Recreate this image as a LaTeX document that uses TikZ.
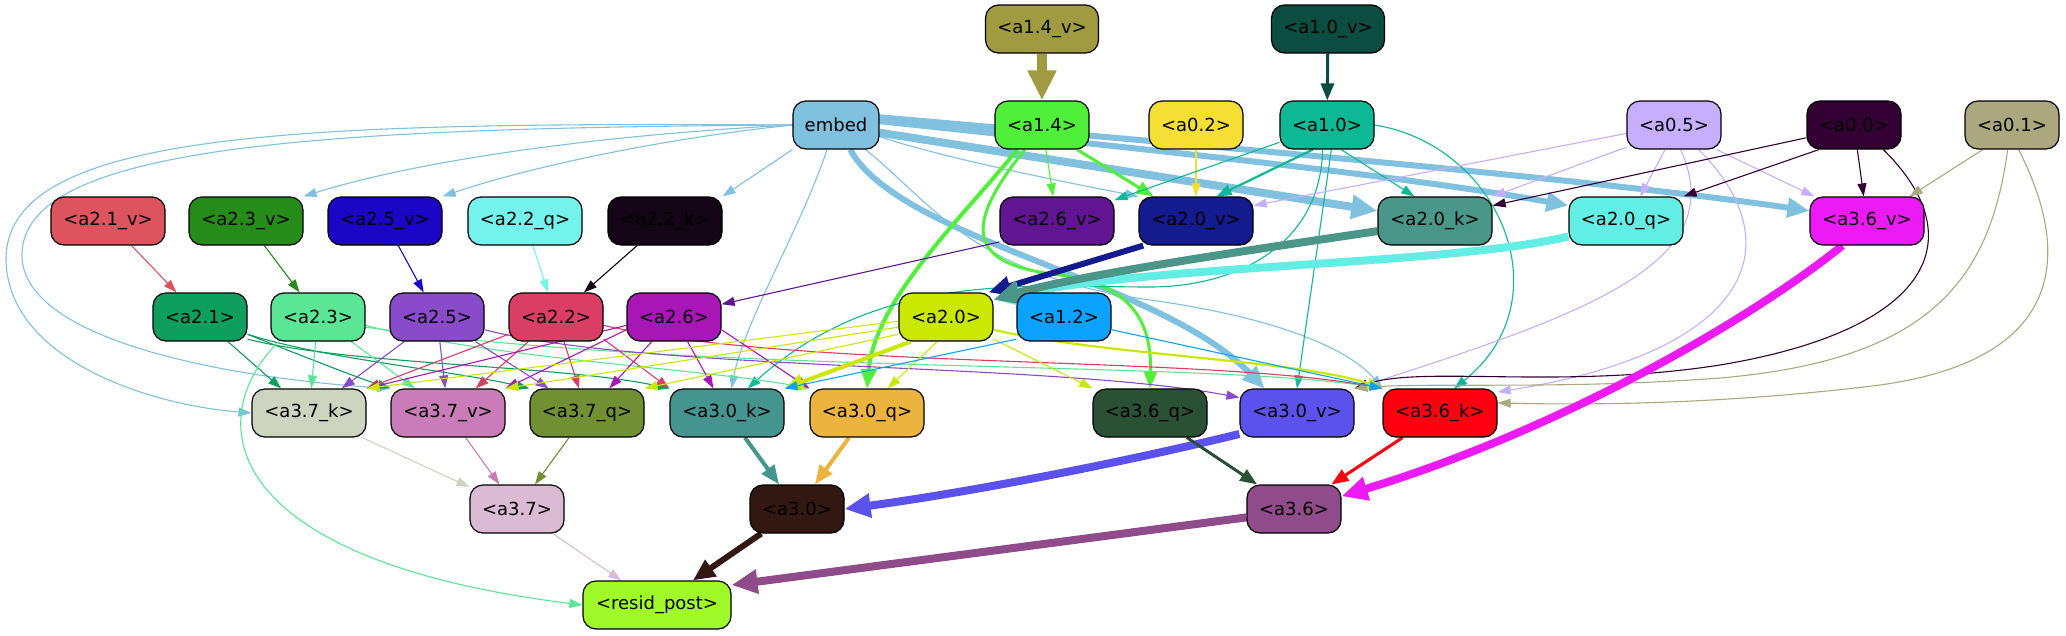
\documentclass[tikz,border=0pt]{standalone}
\usepackage{fontspec}
\setmainfont{DejaVu Sans}
\usetikzlibrary{arrows.meta,backgrounds}
\definecolor{cA14v}{HTML}{A09A40}
\definecolor{cA10v}{HTML}{0B4D40}
\definecolor{cEmb}{HTML}{80C1E0}
\definecolor{cA14}{HTML}{50F03A}
\definecolor{cA02}{HTML}{F5DF35}
\definecolor{cA10}{HTML}{0DB894}
\definecolor{cA05}{HTML}{C8AEFE}
\definecolor{cA00}{HTML}{330033}
\definecolor{cA01}{HTML}{ABA880}
\definecolor{cA21v}{HTML}{DD545E}
\definecolor{cA23v}{HTML}{268C19}
\definecolor{cA25v}{HTML}{1A06C4}
\definecolor{cA22q}{HTML}{73F3EC}
\definecolor{cA22k}{HTML}{130515}
\definecolor{cA26v}{HTML}{621593}
\definecolor{cA20v}{HTML}{131B8F}
\definecolor{cA20k}{HTML}{4A978A}
\definecolor{cA20q}{HTML}{63EEE5}
\definecolor{cA36v}{HTML}{EC1BF5}
\definecolor{cA21}{HTML}{0E9E5E}
\definecolor{cA23}{HTML}{5BE695}
\definecolor{cA25}{HTML}{8A4BCB}
\definecolor{cA22}{HTML}{DB3E64}
\definecolor{cA26}{HTML}{A817B5}
\definecolor{cA20}{HTML}{CAE800}
\definecolor{cA12}{HTML}{0BA3FF}
\definecolor{cA37k}{HTML}{CDD5C0}
\definecolor{cA37v}{HTML}{C97CB8}
\definecolor{cA37q}{HTML}{718F33}
\definecolor{cA30k}{HTML}{449490}
\definecolor{cA30q}{HTML}{ECB33F}
\definecolor{cA36q}{HTML}{2A5133}
\definecolor{cA30v}{HTML}{5B52EE}
\definecolor{cA36k}{HTML}{FF0011}
\definecolor{cA37}{HTML}{DBBBD3}
\definecolor{cA30}{HTML}{331812}
\definecolor{cA36}{HTML}{8F4B8A}
\definecolor{cRes}{HTML}{A0FA2A}
\tikzset{
 box/.style={draw=black, line width=1.2pt, rounded corners=13pt, minimum height=48pt, inner sep=0pt, font=\fontsize{18}{21}\selectfont},
 sw/.style={box, minimum width=94pt},
 wd/.style={box, minimum width=114pt},
 t1/.style={line width=1.1pt, -{Triangle[length=13pt,width=9pt]}},
 t2/.style={line width=2.2pt, -{Triangle[length=15pt,width=11pt]}},
 t3/.style={line width=3pt, -{Triangle[length=17pt,width=13pt]}},
 t4/.style={line width=4pt, -{Triangle[length=19pt,width=15pt]}},
 t6/.style={line width=6pt, -{Triangle[length=22pt,width=19pt]}},
 t8/.style={line width=8pt, -{Triangle[length=26pt,width=23pt]}},
 t10/.style={line width=10pt, -{Triangle[length=30pt,width=27pt]}},
}
\begin{document}
\begin{tikzpicture}[x=1pt,y=-1pt]
\useasboundingbox (0,0) rectangle (2066,635);
% nodes
\node[box, minimum width=113pt, fill=cA14v] (a14v) at (1042,29) {<a1.4\_v>};
\node[box, minimum width=113pt, fill=cA10v] (a10v) at (1328,29) {<a1.0\_v>};
\node[box, minimum width=86pt, fill=cEmb] (embed) at (836,125) {embed};
\node[sw, fill=cA14] (a14) at (1042,125) {<a1.4>};
\node[sw, fill=cA02] (a02) at (1196,125) {<a0.2>};
\node[sw, fill=cA10] (a10) at (1327,125) {<a1.0>};
\node[sw, fill=cA05] (a05) at (1674,125) {<a0.5>};
\node[sw, fill=cA00] (a00) at (1854,125) {<a0.0>};
\node[sw, fill=cA01] (a01) at (2012,125) {<a0.1>};
\node[wd, fill=cA21v] (a21v) at (108,221) {<a2.1\_v>};
\node[wd, fill=cA23v] (a23v) at (246,221) {<a2.3\_v>};
\node[wd, fill=cA25v] (a25v) at (385,221) {<a2.5\_v>};
\node[wd, fill=cA22q] (a22q) at (525,221) {<a2.2\_q>};
\node[wd, fill=cA22k] (a22k) at (665,221) {<a2.2\_k>};
\node[wd, fill=cA26v] (a26v) at (1057,221) {<a2.6\_v>};
\node[wd, fill=cA20v] (a20v) at (1196,221) {<a2.0\_v>};
\node[wd, fill=cA20k] (a20k) at (1435,221) {<a2.0\_k>};
\node[wd, fill=cA20q] (a20q) at (1626,221) {<a2.0\_q>};
\node[wd, fill=cA36v] (a36v) at (1867,221) {<a3.6\_v>};
\node[sw, fill=cA21] (a21) at (200,317) {<a2.1>};
\node[sw, fill=cA23] (a23) at (318,317) {<a2.3>};
\node[sw, fill=cA25] (a25) at (437,317) {<a2.5>};
\node[sw, fill=cA22] (a22) at (556,317) {<a2.2>};
\node[sw, fill=cA26] (a26) at (674,317) {<a2.6>};
\node[sw, fill=cA20] (a20) at (946,317) {<a2.0>};
\node[sw, fill=cA12] (a12) at (1064,317) {<a1.2>};
\node[wd, fill=cA37k] (a37k) at (309,413) {<a3.7\_k>};
\node[wd, fill=cA37v] (a37v) at (448,413) {<a3.7\_v>};
\node[wd, fill=cA37q] (a37q) at (587,413) {<a3.7\_q>};
\node[wd, fill=cA30k] (a30k) at (727,413) {<a3.0\_k>};
\node[wd, fill=cA30q] (a30q) at (867,413) {<a3.0\_q>};
\node[wd, fill=cA36q] (a36q) at (1150,413) {<a3.6\_q>};
\node[wd, fill=cA30v] (a30v) at (1297,413) {<a3.0\_v>};
\node[wd, fill=cA36k] (a36k) at (1440,413) {<a3.6\_k>};
\node[sw, fill=cA37] (a37) at (517,509) {<a3.7>};
\node[sw, fill=cA30] (a30) at (797,509) {<a3.0>};
\node[sw, fill=cA36] (a36) at (1294,509) {<a3.6>};
\node[box, minimum width=148pt, fill=cRes] (resid) at (657,605) {<resid\_post>};
\begin{pgfonlayer}{background}
\fill[white] (0,0) rectangle (2066,635);
% top
\draw[t10, cA14v] (a14v) -- (a14);
\draw[t3, cA10v] (a10v) -- (a10);
% embed
\draw[t1, cEmb] (embed.west) .. controls (600,135) and (420,160) .. (a23v.north east);
\draw[t1, cEmb] (embed.west) .. controls (650,140) and (520,170) .. (a25v.north east);
\draw[t1, cEmb] (embed.south west) -- (a22k.north east);
\draw[t1, cEmb] (embed.west) .. controls (300,122) and (5,130) .. (6,260) .. controls (8,360) and (150,405) .. (a37k.west);
\draw[t1, cEmb] (embed.west) .. controls (320,128) and (22,145) .. (22,255) .. controls (22,345) and (250,380) .. (a37v.north west);
\draw[t1, cEmb] (embed.250) .. controls (800,230) and (745,320) .. (a30k.80);
\draw[t1, cEmb] (embed.-40) .. controls (930,200) and (970,275) .. (1150,300) .. controls (1280,318) and (1350,350) .. (a36k.north west);
\draw[t1, cEmb] (embed.-15) .. controls (950,160) and (1080,185) .. (a20v.north west);
\draw[t6, cEmb] (embed.-60) .. controls (900,240) and (1160,280) .. (a30v.143);
\draw[t6, cEmb] (embed.5) .. controls (1150,150) and (1400,175) .. (a20q.165);
\draw[t6, cEmb] (embed.10) .. controls (1200,145) and (1600,180) .. (a36v.170);
\draw[t8, cEmb] (embed.-10) -- (a20k.170);
% a1.4
\draw[t1, cA14] (a14) -- (a26v);
\draw[t3, cA14] (a14.-35) -- (a20v.150);
\draw[t4, cA14] (a14.225) .. controls (960,220) and (875,300) .. (a30q.north);
\draw[t3, cA14] (a14.235) .. controls (960,230) and (970,265) .. (1060,275) .. controls (1130,285) and (1152,320) .. (a36q.north);
\draw[t1, cA02] (a02) -- (a20v);
% a1.0
\draw[t1, cA10] (a10.200) -- (a26v.20);
\draw[t2, cA10] (a10.240) -- (a20v.50);
\draw[t1, cA10] (a10.-60) -- (a20k.130);
\draw[t1, cA10] (a10.260) .. controls (1320,250) and (1230,287) .. (1150,287) .. controls (1030,287) and (880,270) .. (a30k.50);
\draw[t1, cA10] (a10.-80) -- (a30v.north);
\draw[t1, cA10] (a10.east) .. controls (1500,145) and (1565,300) .. (a36k.60);
% a0.5
\draw[t1, cA05] (a05.190) -- (a20v.15);
\draw[t1, cA05] (a05.205) -- (a20k.north east);
\draw[t1, cA05] (a05.250) -- (a20q.60);
\draw[t1, cA05] (a05.-30) -- (a36v.155);
\draw[t1, cA05] (a05.-75) .. controls (1730,260) and (1600,310) .. (a30v.north east);
\draw[t1, cA05] (a05.-45) .. controls (1790,240) and (1760,350) .. (a36k.20);
% a0.0
\draw[t1, cA00] (a00.195) -- (a20k.15);
\draw[t1, cA00] (a00.215) -- (a20q.north east);
\draw[t1, cA00] (a00) -- (a36v);
\draw[t1, cA00] (a00.-40) .. controls (1975,240) and (1930,330) .. (1720,365) .. controls (1560,390) and (1420,365) .. (a30v.north east);
% a0.1
\draw[t1, cA01] (a01.220) -- (a36v.30);
\draw[t1, cA01] (a01.-100) .. controls (1990,280) and (1930,360) .. (1720,378) .. controls (1560,390) and (1430,382) .. (a30v.north east);
\draw[t1, cA01] (a01.-75) .. controls (2075,260) and (2060,360) .. (1880,385) .. controls (1720,405) and (1580,405) .. (a36k.10);
% row 3 -> row 4
\draw[t1, cA26v] (a26v.200) -- (a26.15);
\draw[t6, cA20v] (a20v.205) -- (a20.30);
\draw[t8, cA20q] (a20q.195) .. controls (1450,265) and (1150,265) .. (a20.20);
\draw[t8, cA20k] (a20k.190) .. controls (1250,250) and (1080,275) .. (a20.20);
\draw[t1, cA21v] (a21v) -- (a21);
\draw[t1, cA23v] (a23v) -- (a23);
\draw[t1, cA25v] (a25v) -- (a25);
\draw[t1, cA22q] (a22q) -- (a22);
\draw[t1, cA22k] (a22k) -- (a22);
% a2.1
\draw[t1, cA21] (a21) -- (a37k);
\draw[t1, cA21] (a21.-20) .. controls (300,355) and (350,375) .. (a37v.north west);
\draw[t1, cA21] (a21.-20) .. controls (330,360) and (450,370) .. (a37q.north west);
\draw[t1, cA21] (a21.-25) .. controls (350,365) and (560,365) .. (a30k.north west);
% a2.3
\draw[t1, cA23] (a23) -- (a37k);
\draw[t1, cA23] (a23) -- (a37v);
\draw[t1, cA23] (a23.-10) .. controls (500,360) and (700,368) .. (a30q.north west);
\draw[t1, cA23] (a23.-12) .. controls (700,375) and (1200,360) .. (a36k.north west);
\draw[t1, cA23] (a23.212) .. controls (200,420) and (220,560) .. (resid.west);
% a2.5
\draw[t1, cA25] (a25) -- (a37k);
\draw[t1, cA25] (a25) -- (a37v);
\draw[t1, cA25] (a25) -- (a37q);
\draw[t1, cA25] (a25.-15) .. controls (650,372) and (1050,362) .. (a30v.165);
% a2.2
\draw[t1, cA22] (a22.200) -- (a37k.north east);
\draw[t1, cA22] (a22) -- (a37v);
\draw[t1, cA22] (a22) -- (a37q);
\draw[t1, cA22] (a22.-25) -- (a30k.north west);
\draw[t1, cA22] (a22.-10) .. controls (800,370) and (1200,355) .. (a36k.north west);
% a2.6
\draw[t1, cA26] (a26.190) -- (a37k.north east);
\draw[t1, cA26] (a26.195) -- (a37v.north east);
\draw[t1, cA26] (a26) -- (a37q);
\draw[t1, cA26] (a26) -- (a30k);
\draw[t1, cA26] (a26.-15) -- (a30q.north west);
% a2.0
\draw[t1, cA20] (a20.185) -- (a37k.north east);
\draw[t1, cA20] (a20.192) -- (a37v.north east);
\draw[t1, cA20] (a20.200) -- (a37q.north east);
\draw[t4, cA20] (a20.215) -- (a30k.north east);
\draw[t1, cA20] (a20.250) -- (a30q.50);
\draw[t1, cA20] (a20.-25) -- (a36q.north west);
\draw[t2, cA20] (a20.-15) .. controls (1100,355) and (1300,360) .. (a36k.north west);
% a1.2
\draw[t1, cA12] (a12.205) -- (a30k.north east);
\draw[t1, cA12] (a12.-15) -- (a36k.north west);
% row 5 -> row 6
\draw[t1, cA37k] (a37k) -- (a37);
\draw[t1, cA37v] (a37v) -- (a37);
\draw[t1, cA37q] (a37q) -- (a37);
\draw[t4, cA30k] (a30k) -- (a30);
\draw[t4, cA30q] (a30q) -- (a30);
\draw[t8, cA30v] (a30v.200) .. controls (1100,468) and (950,495) .. (a30.east);
\draw[t3, cA36q] (a36q) -- (a36);
\draw[t3, cA36k] (a36k) -- (a36);
\draw[t8, cA36v] (a36v.225) .. controls (1750,320) and (1560,430) .. (a36.15);
% to resid
\draw[t1, cA37] (a37) -- (resid);
\draw[t6, cA30] (a30) -- (resid);
\draw[t8, cA36] (a36.190) -- (resid.15);
\end{pgfonlayer}
\end{tikzpicture}
\end{document}
